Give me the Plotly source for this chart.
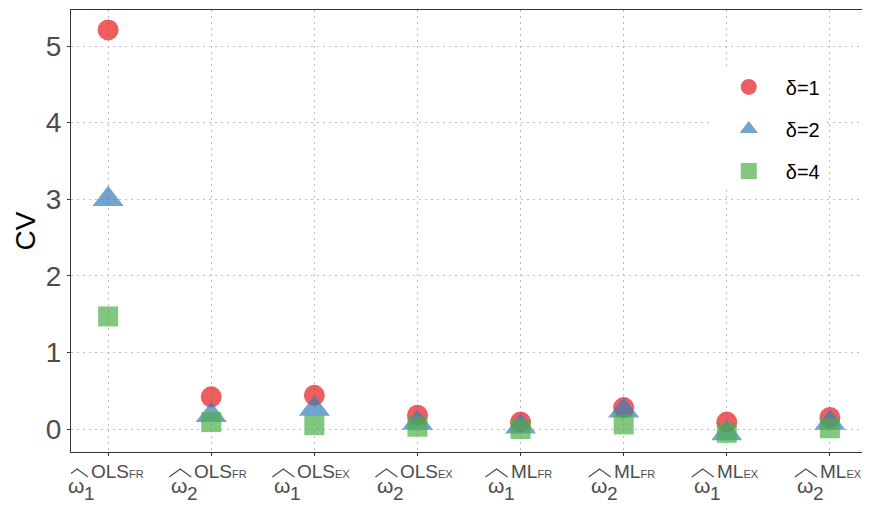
import plotly.graph_objects as go

# ---- data ----
categories = [0, 1, 2, 3, 4, 5, 6, 7]
est_index = ["1", "2", "1", "2", "1", "2", "1", "2"]
est_method = ["OLS", "OLS", "OLS", "OLS", "ML", "ML", "ML", "ML"]
est_design = ["FR", "FR", "EX", "EX", "FR", "FR", "EX", "EX"]

cv_delta1 = [5.21, 0.42, 0.44, 0.18, 0.09, 0.28, 0.09, 0.15]
cv_delta2 = [3.00, 0.18, 0.26, 0.08, 0.03, 0.24, -0.06, 0.08]
cv_delta4 = [1.47, 0.09, 0.05, 0.03, 0.00, 0.06, -0.05, 0.01]

series_names = ["δ=1", "δ=2", "δ=4"]
y_ticks = [0, 1, 2, 3, 4, 5]

FONT = "Liberation Sans, Arial, Helvetica, sans-serif"
LABEL_COLOR = "#4D4D4D"

fig = go.Figure()
styles = [
    ("circle", 21, "#E41A1C"),
    ("triangle-up", 27, "#377EB8"),
    ("square", 20, "#4DAF4A"),
]
for name, vals, (sym, size, col) in zip(series_names, [cv_delta1, cv_delta2, cv_delta4], styles):
    fig.add_trace(go.Scatter(
        x=categories, y=vals, mode="markers", name=name, legendgroup=name,
        marker=dict(symbol=sym, size=size, color=col, opacity=0.7, line=dict(width=0)),
        hoverinfo="skip",
    ))

# ---- x tick labels (plotmath-like: widehat(omega)[i]^{METHOD[DESIGN]}) ----
annotations = []
shapes = []
for c, idx, meth, des in zip(categories, est_index, est_method, est_design):
    left = -41 if meth == "OLS" else -34
    common = dict(x=c, xref="x", y=0, yref="paper", xanchor="left", yanchor="middle",
                  showarrow=False, borderpad=0)
    annotations.append(dict(text=f"{meth}<span style='font-size:11px'>{des}</span>",
                            xshift=left + 23, yshift=-19.5,
                            font=dict(family=FONT, size=19, color=LABEL_COLOR), **common))
    annotations.append(dict(text="ω", xshift=left, yshift=-33,
                            font=dict(family=FONT, size=21, color=LABEL_COLOR), **common))
    annotations.append(dict(text=idx, xshift=left + 16, yshift=-41.5,
                            font=dict(family=FONT, size=19, color=LABEL_COLOR), **common))
    # wide hat accent over omega (drawn as strokes, as plotmath does)
    shapes.append(dict(
        type="path", xref="x", yref="paper", xsizemode="pixel", ysizemode="pixel",
        xanchor=c, yanchor=0,
        path=f"M {left - 1},-25 L {left + 10},-17 L {left + 21},-25",
        line=dict(color=LABEL_COLOR, width=1.2), layer="above",
    ))

# The page has an 8px body margin, so the figure is sized to fit in the 870x505 window.
fig.update_layout(
    width=862, height=497,
    margin=dict(l=63, r=3, t=2, b=53, autoexpand=False),
    paper_bgcolor="white", plot_bgcolor="white",
    font=dict(family=FONT, color=LABEL_COLOR),
    showlegend=True,
    legend=dict(
        x=0.805, y=0.87, xanchor="left", yanchor="top",
        bgcolor="white", borderwidth=0,
        font=dict(family=FONT, size=20, color="black"),
        itemwidth=64, tracegroupgap=13, traceorder="grouped",
    ),
    annotations=annotations,
    shapes=shapes,
)
fig.update_xaxes(
    range=[-0.36, 7.36], tickvals=categories, showticklabels=False,
    showgrid=True, gridcolor="#BDBDBD", griddash="2px,4px", gridwidth=1,
    zeroline=False, showline=True, mirror=True, linecolor="#333333", linewidth=1,
    ticks="outside", ticklen=3, tickcolor="#333333",
)
fig.update_yaxes(
    range=[-0.30, 5.47], tickvals=y_ticks, ticktext=[str(v) for v in y_ticks],
    showgrid=True, gridcolor="#BDBDBD", griddash="2px,4px", gridwidth=1,
    zeroline=False, showline=True, mirror=True, linecolor="#333333", linewidth=1,
    ticks="outside", ticklen=3, tickcolor="#333333",
    tickfont=dict(family=FONT, size=28, color=LABEL_COLOR),
    title=dict(text="CV", font=dict(family=FONT, size=28, color="black"), standoff=2),
)

fig.write_html("out.html")
